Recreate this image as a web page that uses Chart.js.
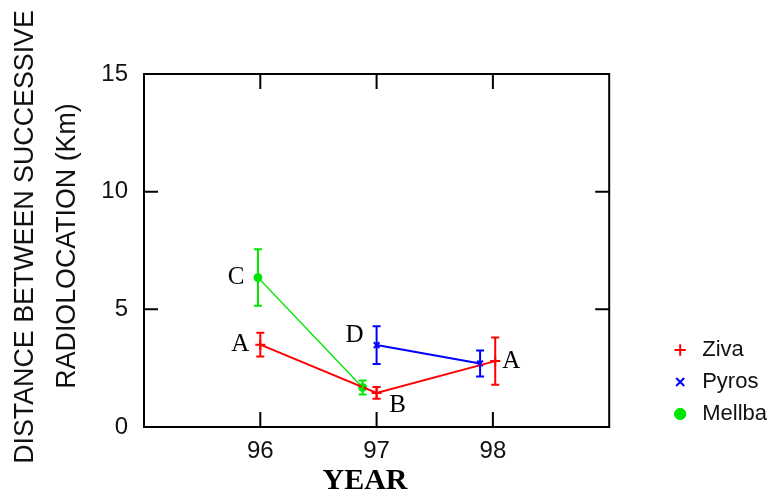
<!DOCTYPE html>
<html lang="en">
<head>
<meta charset="UTF-8">
<title>Distance between successive radiolocation</title>
<script src="https://cdn.jsdelivr.net/npm/chart.js"></script>
<style>
  body { margin: 0; background: #fff; }
</style>
</head>
<body>
<canvas id="chart" width="777" height="490"></canvas>
<script>
// data
const xTicks = [96, 97, 98];
const yTicks = [0, 5, 10, 15];

const zivaX = [96, 97, 98.02];
const zivaY = [3.5, 1.45, 2.8];
const zivaErr = [0.5, 0.25, 1.0];

const pyrosX = [97.0, 97.89];
const pyrosY = [3.48, 2.7];
const pyrosErr = [0.8, 0.55];

const mellbaX = [95.98, 96.88];
const mellbaY = [6.35, 1.68];
const mellbaErr = [1.2, 0.3];

// letters next to points: [dataset, point index, text]
const letters = [[0, 0, 'A'], [0, 1, 'B'], [0, 2, 'A'], [1, 0, 'D'], [2, 0, 'C']];
const letterOffsets = [[-20, 0], [21, 13], [16, 0], [-22, -10], [-22, 0]];

const yTitle = ['DISTANCE BETWEEN SUCCESSIVE', 'RADIOLOCATION (Km)'];
const xTitle = 'YEAR';

const RED = '#ff0000', BLUE = '#0000ff', GREEN = '#00e600';

function pts(xs, ys) {
    return xs.map((x, i) => ({ x: x, y: ys[i] }));
}

// error bars, frame, inward ticks, letters and axis titles
const extras = {
    id: 'extras',
    afterLayout(chart) {
        // legend sits a little lower than the plot bottom
        chart.legend.top += 8;
        chart.legend.bottom += 8;
    },
    afterDatasetsDraw(chart) {
        const ctx = chart.ctx;
        const ys = chart.scales.y;
        chart.data.datasets.forEach((ds, di) => {
            const meta = chart.getDatasetMeta(di);
            ctx.save();
            ctx.strokeStyle = ds.borderColor;
            ctx.lineWidth = 2;
            meta.data.forEach((el, i) => {
                const v = ds.data[i].y, e = ds.errors[i];
                const top = ys.getPixelForValue(v + e);
                const bot = ys.getPixelForValue(v - e);
                ctx.beginPath();
                ctx.moveTo(el.x, top); ctx.lineTo(el.x, bot);
                ctx.moveTo(el.x - 4, top); ctx.lineTo(el.x + 4, top);
                ctx.moveTo(el.x - 4, bot); ctx.lineTo(el.x + 4, bot);
                ctx.stroke();
            });
            ctx.restore();
        });
    },
    afterDraw(chart) {
        const ctx = chart.ctx;
        const a = chart.chartArea;
        const xs = chart.scales.x, ys = chart.scales.y;
        ctx.save();
        ctx.strokeStyle = '#000';
        ctx.lineWidth = 2;
        ctx.strokeRect(a.left, a.top, a.right - a.left, a.bottom - a.top);
        ctx.beginPath();
        xTicks.forEach(v => {
            const px = xs.getPixelForValue(v);
            ctx.moveTo(px, a.bottom); ctx.lineTo(px, a.bottom - 15);
            ctx.moveTo(px, a.top); ctx.lineTo(px, a.top + 15);
        });
        yTicks.forEach(v => {
            const py = ys.getPixelForValue(v);
            ctx.moveTo(a.left, py); ctx.lineTo(a.left + 14, py);
            ctx.moveTo(a.right, py); ctx.lineTo(a.right - 14, py);
        });
        ctx.stroke();

        // letters
        ctx.fillStyle = '#000';
        ctx.font = '25px "Liberation Serif"';
        ctx.textAlign = 'center';
        ctx.textBaseline = 'middle';
        letters.forEach((l, i) => {
            const el = chart.getDatasetMeta(l[0]).data[l[1]];
            ctx.fillText(l[2], el.x + letterOffsets[i][0], el.y + letterOffsets[i][1]);
        });

        // axis titles
        ctx.textBaseline = 'alphabetic';
        ctx.font = 'bold 30px "Liberation Serif"';
        ctx.fillText(xTitle, 365, 489);

        ctx.font = '26.8px "Liberation Sans"';
        ctx.fillStyle = '#111';
        [[33, 237], [75, 246]].forEach((p, i) => {
            ctx.save();
            ctx.translate(p[0], p[1]);
            ctx.rotate(-Math.PI / 2);
            ctx.fillText(yTitle[i], 0, 0);
            ctx.restore();
        });
        ctx.restore();
    }
};

new Chart(document.getElementById('chart'), {
    type: 'line',
    data: {
        datasets: [
            {
                label: 'Ziva',
                data: pts(zivaX, zivaY),
                errors: zivaErr,
                borderColor: RED,
                backgroundColor: RED,
                borderWidth: 2,
                pointStyle: 'cross',
                pointRadius: 5,
                pointBorderWidth: 2
            },
            {
                label: 'Pyros',
                data: pts(pyrosX, pyrosY),
                errors: pyrosErr,
                borderColor: BLUE,
                backgroundColor: BLUE,
                borderWidth: 2,
                pointStyle: 'crossRot',
                pointRadius: 4,
                pointBorderWidth: 2
            },
            {
                label: 'Mellba',
                data: pts(mellbaX, mellbaY),
                errors: mellbaErr,
                borderColor: GREEN,
                backgroundColor: GREEN,
                borderWidth: 1.3,
                pointStyle: 'circle',
                pointRadius: 4,
                pointBorderWidth: 1
            }
        ]
    },
    options: {
        responsive: false,
        animation: false,
        layout: { padding: { top: 74, right: 0, bottom: 0, left: 0 } },
        scales: {
            x: {
                type: 'linear',
                min: 95,
                max: 99,
                afterBuildTicks: s => { s.ticks = xTicks.map(v => ({ value: v })); },
                afterFit: s => { s.height = 63; },
                grid: { display: false },
                border: { display: false },
                ticks: {
                    color: '#111',
                    padding: 2,
                    font: { family: 'Liberation Sans', size: 24 },
                    callback: v => String(v)
                }
            },
            y: {
                min: 0,
                max: 15,
                afterBuildTicks: s => { s.ticks = yTicks.map(v => ({ value: v })); },
                afterFit: s => { s.width = 144; },
                grid: { display: false },
                border: { display: false },
                ticks: {
                    color: '#111',
                    padding: 8,
                    font: { family: 'Liberation Sans', size: 24 }
                }
            },
            y2: {
                position: 'right',
                min: 0,
                max: 15,
                afterFit: s => { s.width = 50; },
                grid: { display: false },
                border: { display: false },
                ticks: { display: false }
            }
        },
        plugins: {
            legend: {
                position: 'right',
                align: 'end',
                fullSize: false,
                labels: {
                    usePointStyle: true,
                    boxWidth: 22,
                    boxHeight: 8,
                    padding: 10,
                    color: '#111',
                    font: { family: 'Liberation Sans', size: 22 }
                }
            },
            tooltip: { enabled: false }
        }
    },
    plugins: [extras]
});
</script>
</body>
</html>
